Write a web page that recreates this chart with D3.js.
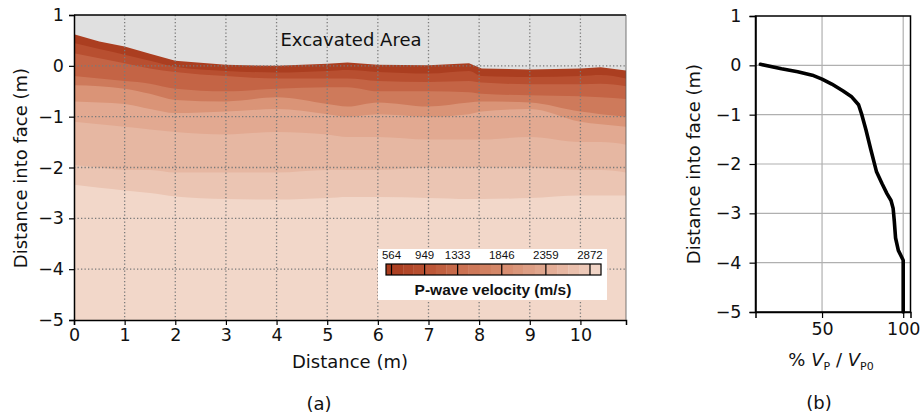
<!DOCTYPE html>
<html>
<head>
<meta charset="utf-8">
<script src="https://cdn.jsdelivr.net/npm/d3@7"></script>
<style>
  body { margin: 0; background: #fff; }
  text { font-family: "DejaVu Sans", sans-serif; fill: #111; }
</style>
</head>
<body>
<svg id="chart" width="920" height="419"></svg>
<script>
// ---- panel (a): velocity section ----
var stations = [0, 0.5, 1, 1.5, 2, 3, 4, 5, 5.4, 6, 7, 7.8, 8.05, 9, 10, 10.4, 10.9];
var surface  = [0.62, 0.48, 0.38, 0.24, 0.1, 0.02, 0.0, 0.04, 0.065, 0.02, 0.01, 0.05, -0.05, -0.07, -0.05, -0.03, -0.09];

// contour boundaries (depth, m) going down from the face
var boundary1 = [0.45, 0.33, 0.22, 0.1, -0.02, -0.1, -0.13, -0.1, -0.08, -0.12, -0.15, -0.1, -0.2, -0.22, -0.2, -0.18, -0.25];
var boundary2 = [0.25, 0.15, 0.05, -0.05, -0.12, -0.2, -0.25, -0.25, -0.25, -0.3, -0.32, -0.3, -0.33, -0.36, -0.36, -0.35, -0.4];
var boundary3 = [-0.2, -0.25, -0.3, -0.35, -0.45, -0.5, -0.45, -0.42, -0.42, -0.5, -0.5, -0.52, -0.55, -0.58, -0.6, -0.62, -0.65];
var boundary4 = [-0.38, -0.4, -0.45, -0.55, -0.67, -0.7, -0.62, -0.75, -0.8, -0.72, -0.8, -0.72, -0.7, -0.72, -0.9, -0.95, -1.0];
var boundary5 = [-0.7, -0.72, -0.75, -0.85, -0.93, -0.9, -0.85, -0.95, -1.0, -0.95, -1.0, -0.95, -0.9, -0.85, -1.1, -1.15, -1.2];
var boundary6 = [-1.1, -1.15, -1.2, -1.25, -1.3, -1.35, -1.3, -1.35, -1.4, -1.4, -1.45, -1.45, -1.45, -1.4, -1.5, -1.5, -1.55];
var boundary7 = [-1.95, -2.0, -2.05, -2.05, -2.1, -2.1, -2.1, -2.05, -2.05, -2.05, -2.0, -2.0, -2.0, -2.0, -2.05, -2.05, -2.1];
var boundary8 = [-2.34, -2.4, -2.45, -2.5, -2.57, -2.62, -2.63, -2.6, -2.58, -2.58, -2.6, -2.62, -2.62, -2.6, -2.55, -2.55, -2.55];

// velocity of each band, from the face down (m/s)
var bandVelocity = [600, 900, 1200, 1550, 2000, 2350, 2550, 2750, 2950];

// colorbar
var cbarTicks = [564, 949, 1333, 1846, 2359, 2872];
var cbarLevels = [500, 564, 700, 820, 949, 1080, 1200, 1333, 1460, 1590, 1720, 1846, 1975, 2100, 2230, 2359, 2490, 2620, 2750, 2872, 3000];

// ---- panel (b): Vp ratio profile ----
var ratioPct   = [12, 25, 35, 44, 50, 56, 63, 68, 72.5, 74.5, 77, 80, 83.5, 87, 90, 92.5, 93.8, 94.5, 95.3, 97, 100, 100];
var ratioDepth = [0.02, -0.07, -0.13, -0.2, -0.28, -0.38, -0.52, -0.63, -0.8, -1.0, -1.3, -1.7, -2.15, -2.4, -2.6, -2.74, -2.9, -3.15, -3.5, -3.75, -3.95, -5];

var svg = d3.select('#chart');

var color = d3.scaleLinear()
  .domain([564, 949, 1333, 1846, 2359, 2872, 3000])
  .range(['#a93c1e', '#ba5233', '#c96e4e', '#d68a6c', '#e2aa92', '#eecdbd', '#f4ddd1'])
  .clamp(true);

var intFmt = d3.format('d');

// ===== panel (a) =====
var xA = d3.scaleLinear().domain([0, 10.9]).range([74, 626]);
var yA = d3.scaleLinear().domain([-5, 1]).range([320, 15]);

svg.append('clipPath').attr('id', 'clipA')
  .append('rect')
  .attr('x', xA(0)).attr('y', yA(1))
  .attr('width', xA(10.9) - xA(0)).attr('height', yA(-5) - yA(1));

var gA = svg.append('g').attr('clip-path', 'url(#clipA)');

// excavated area background
gA.append('rect')
  .attr('x', xA(0)).attr('y', yA(1))
  .attr('width', xA(10.9) - xA(0)).attr('height', yA(-5) - yA(1))
  .attr('fill', '#e0e0e0');

// rock below the face, darkest band first
var faceArea = d3.area()
  .x(function(d, i) { return xA(stations[i]); })
  .y0(yA(-5))
  .y1(function(d) { return yA(d); });

gA.append('path')
  .datum(surface)
  .attr('d', faceArea)
  .attr('fill', color(bandVelocity[0]));

var boundaries = [boundary1, boundary2, boundary3, boundary4, boundary5, boundary6, boundary7, boundary8];
var bandArea = d3.area()
  .curve(d3.curveMonotoneX)
  .x(function(d, i) { return xA(stations[i]); })
  .y0(yA(-5))
  .y1(function(d) { return yA(d); });

boundaries.forEach(function(b, i) {
  gA.append('path')
    .datum(b)
    .attr('d', bandArea)
    .attr('fill', color(bandVelocity[i + 1]));
});

// dotted grid
var gridA = svg.append('g')
  .attr('stroke', '#7a7a7a')
  .attr('stroke-width', 1.3)
  .attr('stroke-dasharray', '1.3,2.2');

gridA.selectAll('line.vx')
  .data(d3.range(1, 11))
  .join('line')
  .attr('x1', d => xA(d)).attr('x2', d => xA(d))
  .attr('y1', yA(1)).attr('y2', yA(-5));

gridA.selectAll('line.hy')
  .data([0, -1, -2, -3, -4])
  .join('line')
  .attr('x1', xA(0)).attr('x2', xA(10.9))
  .attr('y1', d => yA(d)).attr('y2', d => yA(d));

svg.append('text')
  .attr('x', 351).attr('y', 46)
  .attr('text-anchor', 'middle')
  .style('font-size', '18px')
  .text('Excavated Area');

// colorbar legend
var cb = d3.scaleLinear().domain([500, 3000]).range([386, 601]);
var legend = svg.append('g');
legend.append('rect')
  .attr('x', 378).attr('y', 249)
  .attr('width', 229).attr('height', 51)
  .attr('fill', '#fff');

legend.selectAll('rect.lvl')
  .data(d3.pairs(cbarLevels))
  .join('rect')
  .attr('x', d => cb(d[0]))
  .attr('y', 264)
  .attr('width', d => cb(d[1]) - cb(d[0]) + 0.3)
  .attr('height', 11)
  .attr('fill', d => color((d[0] + d[1]) / 2));

legend.selectAll('line.tk')
  .data(cbarTicks)
  .join('line')
  .attr('x1', d => cb(d)).attr('x2', d => cb(d))
  .attr('y1', 264).attr('y2', 275)
  .attr('stroke', '#000').attr('stroke-width', 1.2);

legend.append('rect')
  .attr('x', cb(500)).attr('y', 264)
  .attr('width', cb(3000) - cb(500)).attr('height', 11)
  .attr('fill', 'none')
  .attr('stroke', '#000').attr('stroke-width', 1.2);

legend.selectAll('text.tl')
  .data(cbarTicks)
  .join('text')
  .attr('x', d => cb(d)).attr('y', 259)
  .attr('text-anchor', 'middle')
  .style('font-family', '"Liberation Sans", Arial, sans-serif')
  .style('font-size', '11.5px')
  .text(d => d);

legend.append('text')
  .attr('x', 493).attr('y', 295)
  .attr('text-anchor', 'middle')
  .style('font-family', '"Liberation Sans", Arial, sans-serif')
  .style('font-size', '15.5px')
  .style('font-weight', 'bold')
  .text('P-wave velocity (m/s)');

// axes (a)
var axA_x = svg.append('g')
  .attr('transform', 'translate(0,' + yA(-5) + ')')
  .call(d3.axisBottom(xA).tickValues(d3.range(0, 11)).tickFormat(intFmt).tickSize(5).tickPadding(4));
var axA_y = svg.append('g')
  .attr('transform', 'translate(' + xA(0) + ',0)')
  .call(d3.axisLeft(yA).tickValues([1, 0, -1, -2, -3, -4, -5]).tickFormat(intFmt).tickSize(5).tickPadding(5));

[axA_x, axA_y].forEach(function(ax) {
  ax.select('.domain').attr('stroke', '#000').attr('stroke-width', 1.5);
  ax.selectAll('.tick line').attr('stroke', '#000').attr('stroke-width', 1.2);
  ax.selectAll('.tick text')
    .style('font-family', '"DejaVu Sans", sans-serif')
    .style('font-size', '17.5px')
    .attr('fill', '#111');
});

svg.append('line')
  .attr('x1', xA(0)).attr('x2', xA(10.9))
  .attr('y1', yA(1)).attr('y2', yA(1))
  .attr('stroke', '#000').attr('stroke-width', 1.5);
svg.append('line')
  .attr('x1', xA(10.9)).attr('x2', xA(10.9))
  .attr('y1', yA(1)).attr('y2', yA(-5))
  .attr('stroke', '#555').attr('stroke-width', 0.8);

svg.append('text')
  .attr('x', 350).attr('y', 368)
  .attr('text-anchor', 'middle')
  .style('font-size', '18px')
  .text('Distance (m)');

svg.append('text')
  .attr('transform', 'translate(27,168) rotate(-90)')
  .attr('text-anchor', 'middle')
  .style('font-size', '18px')
  .text('Distance into face (m)');

svg.append('text')
  .attr('x', 319).attr('y', 410)
  .attr('text-anchor', 'middle')
  .style('font-size', '18px')
  .text('(a)');

// ===== panel (b) =====
var xB = d3.scaleLinear().domain([9, 104.5]).range([755.5, 910.5]);
var yB = d3.scaleLinear().domain([-5, 1]).range([312, 16]);

var gridB = svg.append('g')
  .attr('stroke', '#b0b0b0')
  .attr('stroke-width', 1.2);
gridB.selectAll('line.gx')
  .data([50, 100])
  .join('line')
  .attr('x1', d => xB(d)).attr('x2', d => xB(d))
  .attr('y1', yB(1)).attr('y2', yB(-5));
gridB.selectAll('line.gy')
  .data([0, -1, -2, -3, -4])
  .join('line')
  .attr('x1', xB(9)).attr('x2', xB(104.5))
  .attr('y1', d => yB(d)).attr('y2', d => yB(d));

var ratioLine = d3.line()
  .x(function(d, i) { return xB(ratioPct[i]); })
  .y(function(d) { return yB(d); });

svg.append('path')
  .datum(ratioDepth)
  .attr('d', ratioLine)
  .attr('fill', 'none')
  .attr('stroke', '#000')
  .attr('stroke-width', 3.6)
  .attr('stroke-linejoin', 'round')
  .attr('stroke-linecap', 'round');

svg.append('rect')
  .attr('x', xB(9)).attr('y', yB(1))
  .attr('width', xB(104.5) - xB(9)).attr('height', yB(-5) - yB(1))
  .attr('fill', 'none')
  .attr('stroke', '#000').attr('stroke-width', 1.5);

var axB_x = svg.append('g')
  .attr('transform', 'translate(0,' + yB(-5) + ')')
  .call(d3.axisBottom(xB).tickValues([50, 100]).tickFormat(intFmt).tickSize(6).tickPadding(5));
var axB_y = svg.append('g')
  .attr('transform', 'translate(' + xB(9) + ',0)')
  .call(d3.axisLeft(yB).tickValues([1, 0, -1, -2, -3, -4, -5]).tickFormat(intFmt).tickSize(6).tickPadding(8));

[axB_x, axB_y].forEach(function(ax) {
  ax.select('.domain').attr('stroke', '#000').attr('stroke-width', 1.5);
  ax.selectAll('.tick line').attr('stroke', '#000').attr('stroke-width', 1.2);
  ax.selectAll('.tick text')
    .style('font-family', '"DejaVu Sans", sans-serif')
    .style('font-size', '17.5px')
    .attr('fill', '#111');
});

var xlabB = svg.append('text')
  .attr('x', 831).attr('y', 366)
  .attr('text-anchor', 'middle')
  .style('font-size', '18px');
xlabB.append('tspan').text('% ');
xlabB.append('tspan').style('font-style', 'italic').text('V');
xlabB.append('tspan').attr('dy', 4).style('font-size', '11px').text('P');
xlabB.append('tspan').attr('dy', -4).text(' / ');
xlabB.append('tspan').style('font-style', 'italic').text('V');
xlabB.append('tspan').attr('dy', 4).style('font-size', '11px').text('P0');

svg.append('text')
  .attr('transform', 'translate(700,164) rotate(-90)')
  .attr('text-anchor', 'middle')
  .style('font-size', '18px')
  .text('Distance into face (m)');

svg.append('text')
  .attr('x', 819).attr('y', 409)
  .attr('text-anchor', 'middle')
  .style('font-size', '18px')
  .text('(b)');
</script>
</body>
</html>
